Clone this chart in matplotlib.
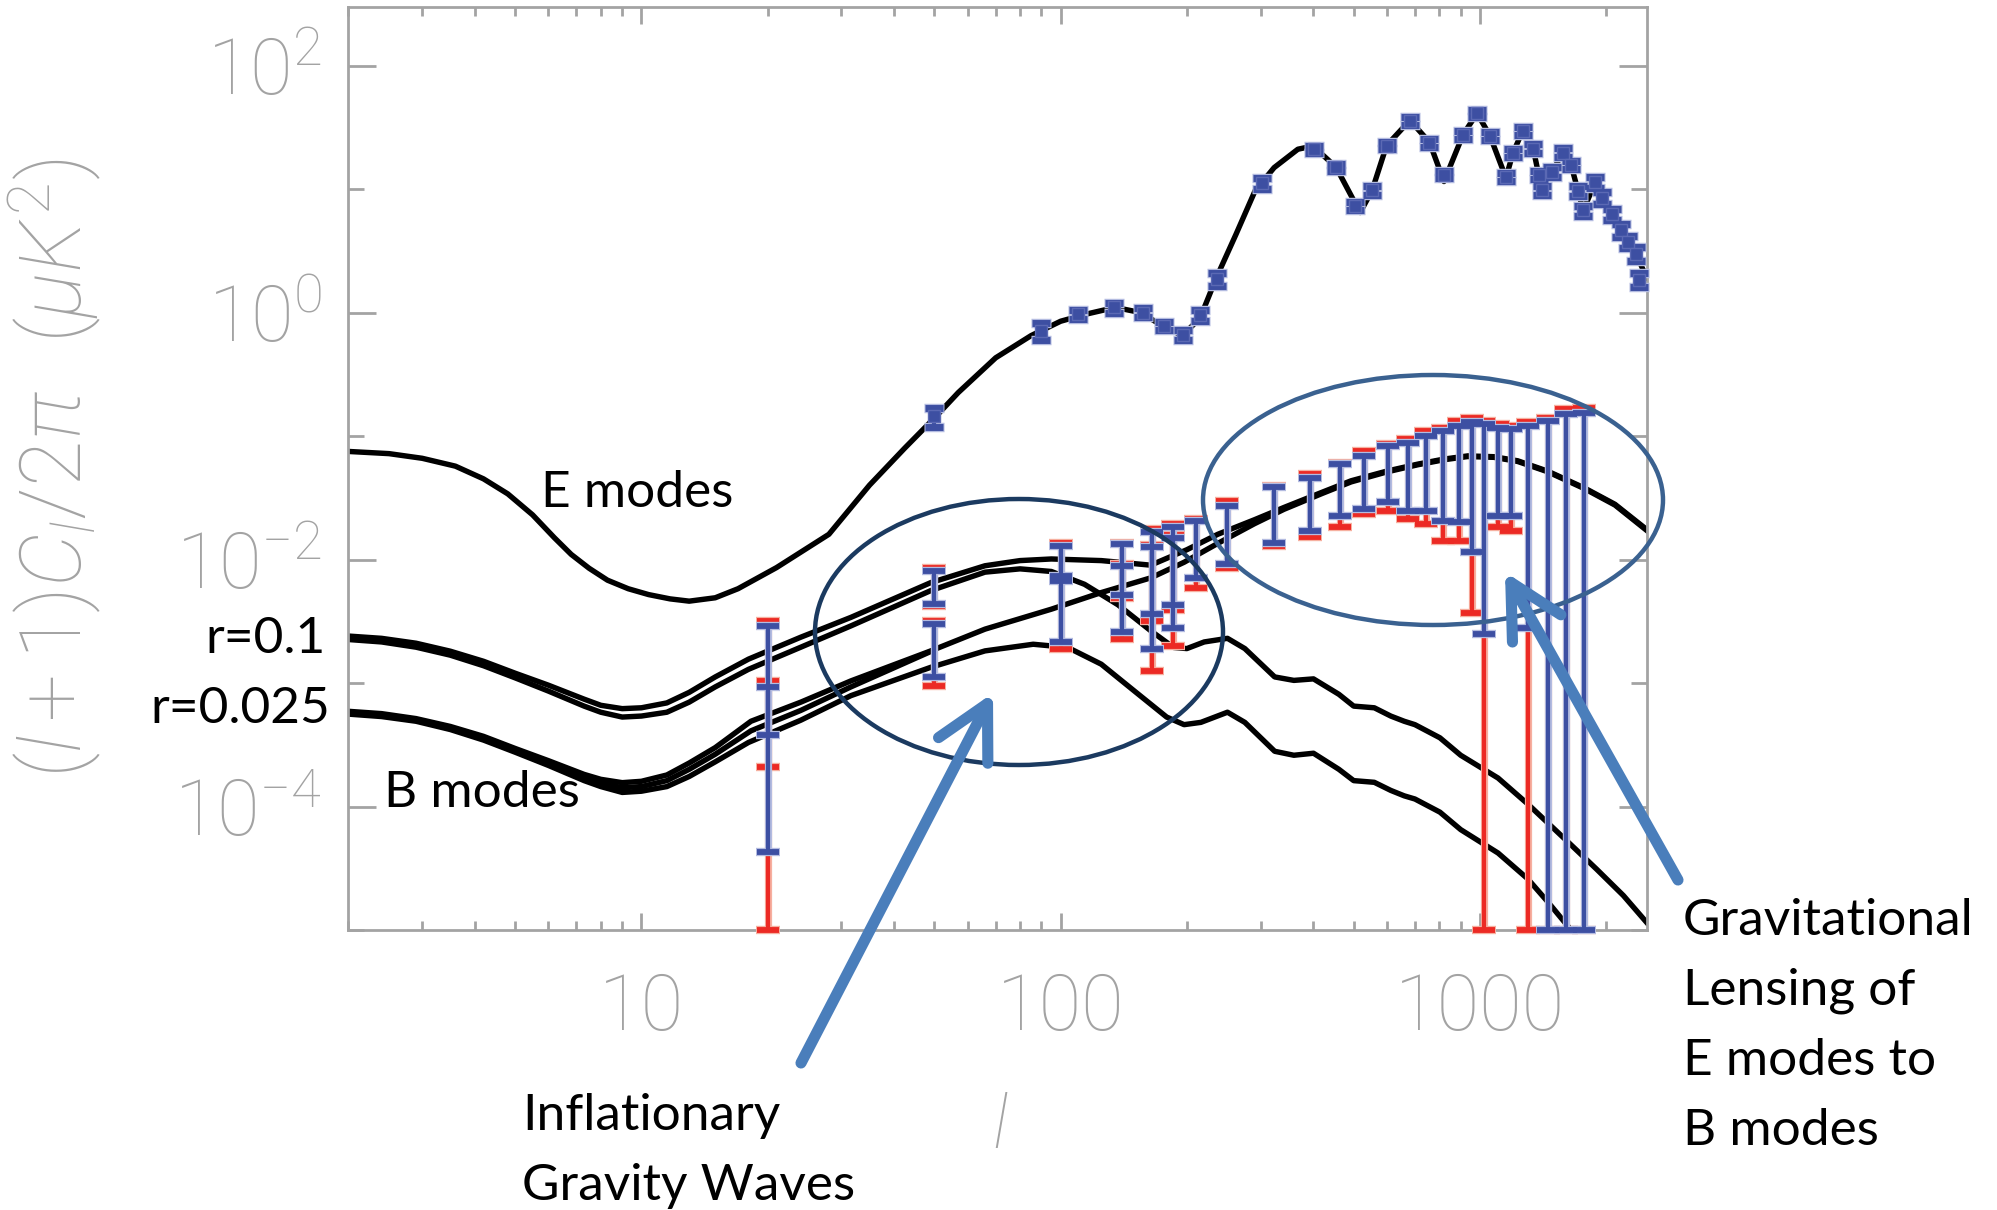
import matplotlib
matplotlib.use("Agg")
import matplotlib.pyplot as plt
import numpy as np
from matplotlib.patches import Ellipse, FancyArrowPatch
from matplotlib.ticker import FixedLocator, LogLocator, NullFormatter, FuncFormatter

# ---- theory curves ----
ell_E = [2, 2.5, 3, 3.6, 4.2, 4.8, 5.5, 6.2, 6.8, 7.5, 8.3, 9.3, 10.4, 11.7, 13, 15, 17, 21,
         28, 35, 42.5, 50, 57, 70, 85, 100, 115, 135, 155, 175, 195, 215, 235, 262, 291, 323,
         368, 400, 454, 518, 553, 599, 681, 758, 821, 912, 985, 1057, 1154, 1199, 1267, 1340,
         1406, 1480, 1581, 1652, 1764, 1884, 2066, 2171, 2358, 2500]
cl_E = [0.075, 0.072, 0.066, 0.057, 0.045, 0.034, 0.023, 0.015, 0.011, 0.0085, 0.0068, 0.0058,
        0.0052, 0.0048, 0.0046, 0.0049, 0.0058, 0.0086, 0.016, 0.04, 0.08, 0.14, 0.225, 0.43,
        0.65, 0.85, 0.97, 1.1, 1.0, 0.78, 0.65, 0.9, 1.9, 4.3, 9.7, 14.9, 21, 22.3, 15, 6.45,
        9.7, 22.5, 36, 24, 11.5, 27.6, 41, 27, 12.3, 19.5, 30, 21.3, 9.8, 13.5, 19.8, 15.5,
        6.7, 11.3, 6.2, 4.6, 3.0, 1.9]

# tensor B-modes, r = 0.1
ell_T1 = [2, 2.4, 2.9, 3.5, 4.2, 5, 6, 7.3, 8, 9, 10, 11.5, 13, 15, 18, 24, 31.6, 49, 66, 80,
          95, 114, 137, 164, 186, 200, 220, 250, 275, 324, 360, 401, 461, 500, 560, 613, 660,
          700, 803, 900, 1105, 1300, 1600, 1900, 2200, 2500]
cl_T1 = [2.25e-3, 2.15e-3, 1.95e-3, 1.68e-3, 1.38e-3, 1.1e-3, 8.6e-4, 6.5e-4, 5.8e-4, 5.3e-4,
         5.4e-4, 5.8e-4, 7.0e-4, 9.3e-4, 1.29e-3, 1.95e-3, 2.9e-3, 5.6e-3, 7.9e-3, 8.4e-3,
         8.0e-3, 6.3e-3, 4.3e-3, 2.65e-3, 1.94e-3, 1.9e-3, 2.15e-3, 2.3e-3, 1.9e-3, 1.12e-3,
         1.05e-3, 1.08e-3, 8.1e-4, 6.5e-4, 6.3e-4, 5.4e-4, 4.9e-4, 4.6e-4, 3.6e-4, 2.6e-4,
         1.7e-4, 1.05e-4, 5.4e-5, 3.1e-5, 1.9e-5, 1.15e-5]

# total B-modes (tensor + lensing), r = 0.1
ell_Tot1 = [2, 2.4, 2.9, 3.5, 4.2, 5, 6, 7.3, 8, 9, 10, 11.5, 13, 15, 18, 24, 31.6, 49, 66, 80,
            95, 125, 164, 200, 237, 290, 341, 420, 493, 600, 711, 820, 935, 1080, 1231, 1450,
            1775, 2100, 2500]
cl_Tot1 = [2.4e-3, 2.3e-3, 2.1e-3, 1.81e-3, 1.5e-3, 1.2e-3, 9.6e-4, 7.4e-4, 6.6e-4, 6.2e-4,
           6.3e-4, 6.9e-4, 8.4e-4, 1.12e-3, 1.56e-3, 2.35e-3, 3.4e-3, 6.5e-3, 8.9e-3, 9.8e-3,
           1.01e-2, 9.8e-3, 9.0e-3, 1.2e-2, 1.6e-2, 2.1e-2, 2.64e-2, 3.5e-2, 4.34e-2, 5.2e-2,
           5.92e-2, 6.5e-2, 6.9e-2, 6.8e-2, 6.3e-2, 5.2e-2, 3.8e-2, 2.8e-2, 1.75e-2]

# tensor B-modes, r = 0.025
ell_T2 = [2, 2.4, 2.9, 3.5, 4.2, 5, 6, 7.3, 8, 9, 10, 11.5, 13, 15, 18, 24, 31.6, 49, 66, 86,
          104, 125, 150, 179, 197, 216, 250, 275, 324, 360, 401, 461, 500, 560, 613, 660, 700,
          803, 900, 1105, 1300, 1450, 1650, 1800]
cl_T2 = [5.6e-4, 5.35e-4, 4.9e-4, 4.2e-4, 3.45e-4, 2.75e-4, 2.15e-4, 1.62e-4, 1.45e-4, 1.3e-4,
         1.33e-4, 1.45e-4, 1.75e-4, 2.3e-4, 3.3e-4, 5.0e-4, 7.9e-4, 1.34e-3, 1.82e-3, 2.06e-3,
         1.94e-3, 1.42e-3, 8.6e-4, 5.3e-4, 4.6e-4, 4.8e-4, 5.8e-4, 4.8e-4, 2.8e-4, 2.6e-4,
         2.7e-4, 2.0e-4, 1.62e-4, 1.57e-4, 1.35e-4, 1.22e-4, 1.15e-4, 9.0e-5, 6.5e-5, 4.2e-5,
         2.6e-5, 1.7e-5, 1.0e-5, 7.0e-6]

# total B-modes, r = 0.025
ell_Tot2 = [2, 2.4, 2.9, 3.5, 4.2, 5, 6, 7.3, 8, 9, 10, 11.5, 13, 15, 18.25, 24, 31.6, 49, 66,
            95, 125, 164, 197, 237, 290, 341, 420, 493, 600, 711, 820, 935, 1080, 1231, 1450,
            1775, 2100, 2500]
cl_Tot2 = [5.9e-4, 5.65e-4, 5.15e-4, 4.45e-4, 3.7e-4, 2.95e-4, 2.35e-4, 1.82e-4, 1.66e-4,
           1.56e-4, 1.6e-4, 1.8e-4, 2.25e-4, 3.0e-4, 4.9e-4, 7.0e-4, 1.04e-3, 1.82e-3, 2.73e-3,
           3.96e-3, 5.4e-3, 7.1e-3, 9.5e-3, 1.35e-2, 1.95e-2, 2.55e-2, 3.42e-2, 4.25e-2,
           5.12e-2, 5.85e-2, 6.42e-2, 6.82e-2, 6.72e-2, 6.22e-2, 5.14e-2, 3.75e-2, 2.76e-2,
           1.72e-2]

# third line of the lower bundle at low l
ell_M = [2, 2.4, 2.9, 3.5, 4.2, 5, 6, 7.3, 8, 9, 10, 11.5, 13, 15, 18.25, 24, 31.6, 49]
cl_M = [5.75e-4, 5.5e-4, 5.0e-4, 4.3e-4, 3.58e-4, 2.85e-4, 2.25e-4, 1.72e-4, 1.55e-4, 1.42e-4,
        1.45e-4, 1.62e-4, 2.0e-4, 2.65e-4, 4.1e-4, 6.0e-4, 9.3e-4, 1.8e-3]

# ---- simulated E-mode band powers (top / bottom of each bar) ----
ell_Ed = [50, 90, 110, 134, 157, 176, 196, 215, 236, 302, 403, 454, 504, 553, 599, 681, 758,
          821, 912, 985, 1057, 1154, 1199, 1267, 1340, 1380, 1406, 1483, 1581, 1652, 1717, 1764,
          1884, 1960, 2066, 2171, 2260, 2358, 2395]
Ed_top = [0.17, 0.83, 1.05, 1.2, 1.08, 0.84, 0.72, 1.05, 2.1, 12.3, 22.5, 16, 7.9, 10.5, 24, 38,
          25.5, 14, 29.5, 44, 29, 13.5, 21, 32, 23, 14, 10.5, 15, 21.5, 17, 10.6, 7.3, 12.4, 9.5,
          6.9, 5.2, 4.2, 3.4, 2.1]
Ed_bot = [0.118, 0.60, 0.88, 1.0, 0.92, 0.72, 0.60, 0.85, 1.65, 10.0, 19.5, 14, 6.8, 9.0, 21, 33,
          22, 12.2, 25.5, 38, 25, 11.7, 18, 27.5, 19.5, 12, 9.0, 12.5, 18, 14.5, 8.8, 6.1, 10.2,
          7.5, 5.6, 4.1, 3.3, 2.6, 1.6]

# ---- simulated B-mode band powers ----
# low l, r = 0.1 set
ell_Blow = [20, 50, 100, 140, 165, 185]
b1_top = [2.92e-3, 8.1e-3, 0.0129, 0.0133, 0.0167, 0.0182]
b1_bot = [3.76e-4, 4.35e-3, 7.3e-3, 5.2e-3, 3.6e-3, 4.3e-3]
r1_top = [3.19e-3, 8.55e-3, 0.0135, 0.0137, 0.0175, 0.0194]
r1_bot = [2.1e-4, 4.2e-3, 7.0e-3, 4.9e-3, 3.2e-3, 3.9e-3]
# low l, r = 0.025 set
b2_top = [9.2e-4, 2.99e-3, 6.7e-3, 8.9e-3, 0.0126, 0.0150]
b2_bot = [4.25e-5, 1.11e-3, 2.13e-3, 2.6e-3, 1.9e-3, 2.8e-3]
r2_top = [1.04e-3, 3.19e-3, 7.0e-3, 9.2e-3, 0.013, 0.0158]
r2_bot = [1e-5, 9.4e-4, 1.88e-3, 2.27e-3, 1.25e-3, 2.0e-3]
# lensing dominated bins
ell_Bhi = [210, 250, 322, 394, 464, 530, 605, 675, 745, 818, 893, 958, 1024, 1103, 1186, 1300,
           1452, 1605, 1775]
bh_top = [0.0206, 0.0272, 0.0383, 0.0461, 0.0592, 0.0691, 0.0832, 0.0886, 0.1005, 0.110, 0.121,
          0.129, 0.125, 0.117, 0.114, 0.121, 0.133, 0.150, 0.155]
bh_bot = [0.00714, 0.00917, 0.0137, 0.0171, 0.0226, 0.0255, 0.029, 0.0248, 0.0248, 0.0206,
          0.0200, 0.0114, 0.0025, 0.0226, 0.0226, 0.0028, 1e-5, 1e-5, 1e-5]
rh_top = [0.0212, 0.0299, 0.0395, 0.0491, 0.061, 0.0758, 0.0869, 0.0942, 0.110, 0.117, 0.133,
          0.141, 0.133, 0.125, 0.121, 0.129, 0.141, 0.165, 0.170]
rh_bot = [0.00593, 0.0086, 0.0129, 0.0151, 0.0182, 0.0233, 0.0248, 0.0212, 0.0193, 0.0142,
          0.0142, 0.00372, 1e-5, 0.0182, 0.0171, 1e-5, 1e-5, 1e-5, 1e-5]

W, H = 1997, 1210
GRAY = "#a3a3a3"
BLUE, BLUE_HALO = "#3d4fa2", "#b3bbe0"
RED, RED_HALO = "#ec2a24", "#f6b0a0"
ARROW = "#4a7ebb"

plt.rcParams["font.family"] = ["Roboto", "DejaVu Sans"]
plt.rcParams["font.weight"] = "light"
plt.rcParams["mathtext.fontset"] = "custom"
plt.rcParams["mathtext.rm"] = "Roboto:light"
plt.rcParams["mathtext.it"] = "Roboto:italic:light"


def fx(px):
    return px / W


def fy(py):
    return 1 - py / H


fig = plt.figure(figsize=(W / 100, H / 100), dpi=100)
ax = fig.add_axes([fx(348.4), fy(930), (1646.7 - 348.4) / W, (930 - 6.6) / H])
ax.set_xscale("log")
ax.set_yscale("log")
ax.set_xlim(2, 2500)
ax.set_ylim(1e-5, 3e2)

# theory curves
for ell, cl in [(ell_E, cl_E), (ell_T1, cl_T1), (ell_Tot1, cl_Tot1), (ell_T2, cl_T2),
                (ell_Tot2, cl_Tot2), (ell_M, cl_M)]:
    ax.plot(ell, cl, color="black", lw=3.9, zorder=2, solid_joinstyle="round")


def bars(ell, top, bot, core, halo, z, cs=8.0, ct=4.2):
    top = np.array(top)
    bot = np.array(bot)
    mid = (top + bot) / 2
    err = (top - bot) / 2
    ax.errorbar(ell, mid, yerr=err, fmt="none", ecolor=halo, elinewidth=5.2,
                capsize=cs + 0.7, capthick=ct + 1.8, zorder=z, clip_on=False)
    ax.errorbar(ell, mid, yerr=err, fmt="none", ecolor=core, elinewidth=3.0,
                capsize=cs, capthick=ct, zorder=z + 0.1, clip_on=False)
    return mid


bars(ell_Blow, r1_top, r1_bot, RED, RED_HALO, 3)
bars(ell_Blow, r2_top, r2_bot, RED, RED_HALO, 3)
bars(ell_Bhi, rh_top, rh_bot, RED, RED_HALO, 3)
bars(ell_Blow, b1_top, b1_bot, BLUE, BLUE_HALO, 4)
bars(ell_Blow, b2_top, b2_bot, BLUE, BLUE_HALO, 4)
bars(ell_Bhi, bh_top, bh_bot, BLUE, BLUE_HALO, 4)
e_mid = bars(ell_Ed, Ed_top, Ed_bot, BLUE, BLUE_HALO, 4, cs=6.5, ct=5.0)
ax.plot(ell_Ed, e_mid, "s", ms=9, color=BLUE, mec="#5b69b4", mew=1.0, zorder=4.2,
        clip_on=False)

# axes styling
for s in ax.spines.values():
    s.set_color(GRAY)
    s.set_linewidth(2)
ax.yaxis.set_major_locator(FixedLocator([1e-4, 1e-2, 1, 1e2]))
ax.yaxis.set_minor_locator(FixedLocator([1e-5, 1e-3, 1e-1, 1e1]))
ax.yaxis.set_major_formatter(FuncFormatter(lambda v, p: r"$\mathregular{10^{%d}}$" % round(np.log10(v))))
ax.yaxis.set_minor_formatter(NullFormatter())
ax.xaxis.set_major_locator(FixedLocator([10, 100, 1000]))
ax.xaxis.set_minor_locator(LogLocator(base=10, subs=range(2, 10), numticks=30))
ax.xaxis.set_major_formatter(FuncFormatter(lambda v, p: "%d" % v))
ax.xaxis.set_minor_formatter(NullFormatter())
ax.tick_params(which="both", direction="in", top=True, right=True, color=GRAY, width=2,
               labelsize=56, labelcolor=GRAY)
ax.tick_params(axis="y", which="major", length=20, pad=19)
ax.tick_params(axis="y", which="minor", length=11.5)
ax.tick_params(axis="x", which="major", length=12, pad=30)
ax.tick_params(axis="x", which="minor", length=6.5)

# axis labels
fig.text(fx(55), fy(468), r"$(l+1)C_l/2\pi\ \ (\mu K^2)$", rotation=90, ha="center",
         va="center", fontsize=61, color=GRAY)
fig.text(fx(1000), fy(1127), r"$l$", ha="center", va="center", fontsize=54, color=GRAY)

# ellipses
fig.add_artist(Ellipse((fx(1019), fy(632)), 408 / W, 266 / H, transform=fig.transFigure,
                       fill=False, ec="#1b3a60", lw=3.2, zorder=6))
fig.add_artist(Ellipse((fx(1433), fy(500)), 460 / W, 250 / H, transform=fig.transFigure,
                       fill=False, ec="#3a6190", lw=3.2, zorder=6))

# arrows
for tail, tip in [((801, 1063), (993, 693)), ((1678, 880), (1505, 572))]:
    fig.add_artist(FancyArrowPatch((fx(tail[0]), fy(tail[1])), (fx(tip[0]), fy(tip[1])),
                                   transform=fig.transFigure,
                                   arrowstyle="->,head_length=0.95,head_width=0.5",
                                   mutation_scale=40, lw=8, color=ARROW, capstyle="round",
                                   joinstyle="round", shrinkA=0, shrinkB=0, zorder=7))

# annotations
txt = dict(fontsize=37, family=["Lato", "DejaVu Sans"], weight="normal", color="black",
           va="baseline")
fig.text(fx(541), fy(507), "E modes", ha="left", **txt)
fig.text(fx(326), fy(653), "r=0.1", ha="right", **txt)
fig.text(fx(330), fy(723), "r=0.025", ha="right", **txt)
fig.text(fx(384), fy(807), "B modes", ha="left", **txt)
fig.text(fx(522), fy(1130), "Inflationary", ha="left", **txt)
fig.text(fx(522), fy(1200), "Gravity Waves", ha="left", **txt)
for i, line in enumerate(["Gravitational", "Lensing of", "E modes to", "B modes"]):
    fig.text(fx(1683), fy(935 + 70 * i), line, ha="left", **txt)

fig.savefig("out.png", dpi=100)
